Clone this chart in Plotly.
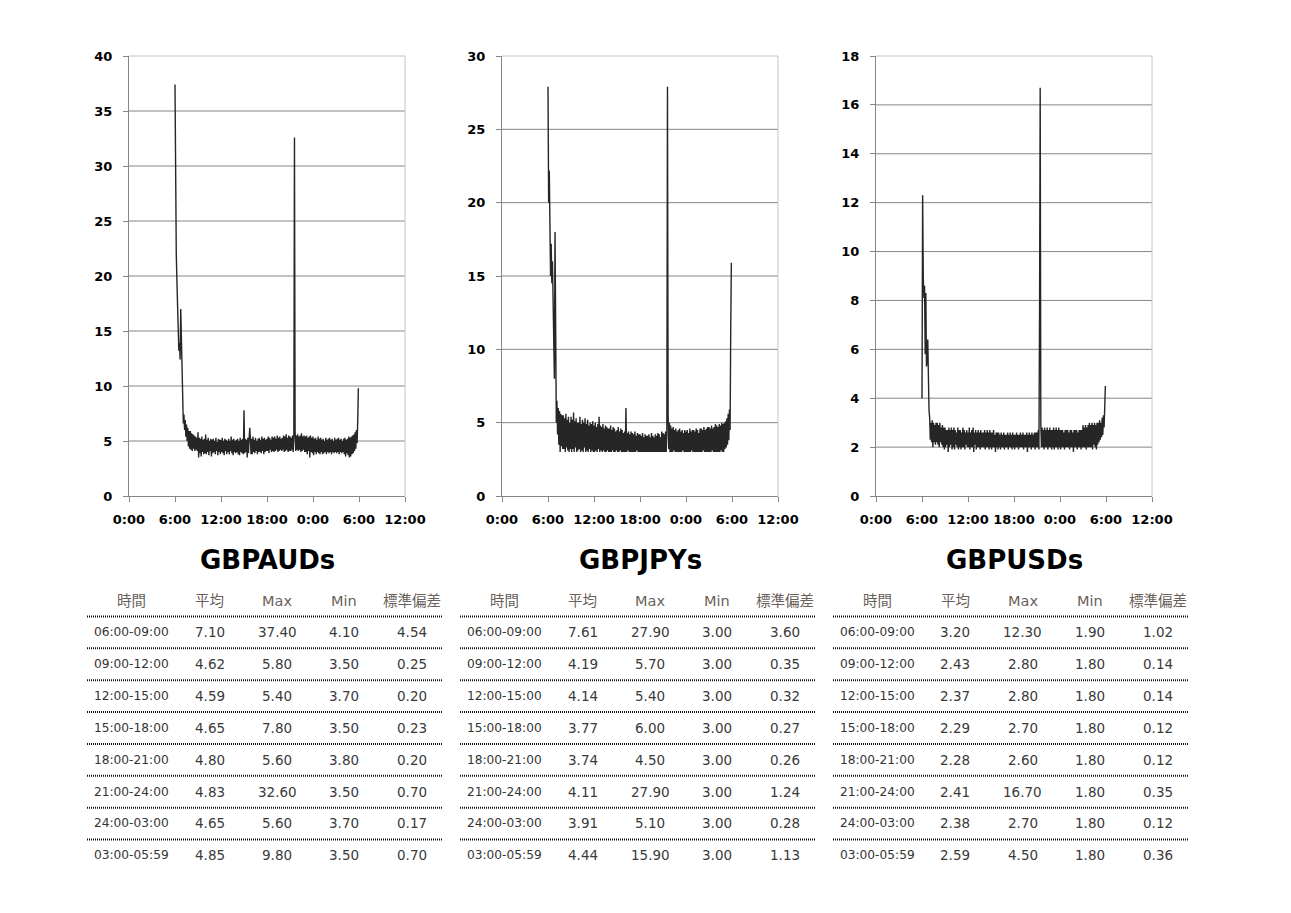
import pandas as pd
import plotly.graph_objects as go

W, H = 1291, 913

# ---------------- series: 5-minute readings, 06:00 -> 05:55 next day ----------------
series_start = "2000-01-01 06:00"

aud_vals = [
    37.4, 27.5, 22.0, 19.5, 16.6, 14.8, 13.2, 13.9, 12.4, 17.0, 13.5, 10.5,
    8.0, 6.6, 7.4, 6.0, 6.9, 5.4, 6.5, 5.0, 6.2, 4.5, 5.9, 4.3,
    5.9, 4.2, 5.7, 4.1, 5.6, 4.3, 5.5, 4.1, 5.4, 4.2, 5.3, 4.1,
    5.8, 3.5, 5.3, 3.9, 5.2, 3.6, 5.4, 4.0, 5.1, 3.8, 5.2, 3.9,
    5.6, 3.8, 5.1, 4.0, 5.3, 3.7, 5.0, 4.1, 5.2, 3.6, 5.1, 3.9,
    5.2, 4.0, 5.0, 3.8, 5.3, 4.1, 4.9, 3.7, 5.2, 4.0, 5.1, 3.8,
    5.1, 4.0, 5.3, 3.9, 5.0, 3.7, 5.2, 4.1, 5.1, 3.8, 5.0, 4.0,
    5.2, 3.8, 5.0, 4.1, 5.4, 3.9, 5.1, 3.7, 5.2, 4.0, 5.0, 3.9,
    5.1, 4.0, 5.2, 3.8, 5.0, 3.7, 5.3, 4.0, 5.1, 3.9, 5.2, 3.8,
    7.8, 3.9, 5.2, 4.0, 5.1, 3.5, 5.3, 3.9, 5.2, 6.2, 5.2, 3.8,
    5.2, 3.8, 5.4, 4.0, 5.1, 3.9, 5.3, 4.1, 5.0, 3.8, 5.2, 4.0,
    5.3, 4.0, 5.1, 3.9, 5.4, 4.1, 5.2, 3.8, 5.3, 4.0, 5.1, 4.1,
    5.2, 4.1, 5.4, 3.9, 5.3, 4.2, 5.1, 4.0, 5.4, 4.1, 5.3, 4.0,
    5.4, 4.1, 5.2, 4.2, 5.5, 4.0, 5.3, 4.1, 5.4, 4.2, 5.2, 4.1,
    5.3, 4.2, 5.5, 4.0, 5.4, 4.1, 5.6, 4.2, 5.3, 4.0, 5.5, 4.1,
    5.4, 4.1, 5.3, 4.2, 5.5, 4.0, 5.4, 32.6, 5.9, 4.1, 5.5, 4.2,
    5.6, 4.1, 5.4, 4.2, 5.5, 4.0, 5.7, 4.1, 5.4, 4.2, 5.5, 4.0,
    5.4, 4.0, 5.5, 3.8, 5.3, 4.1, 5.4, 3.5, 5.5, 4.0, 5.3, 3.9,
    5.4, 3.7, 5.2, 4.0, 5.3, 3.8, 5.1, 4.0, 5.4, 3.9, 5.2, 3.8,
    5.3, 4.0, 5.1, 3.8, 5.2, 3.9, 5.0, 4.0, 5.3, 3.8, 5.1, 4.0,
    5.2, 3.9, 5.3, 4.0, 5.1, 3.8, 5.2, 4.0, 5.0, 3.9, 5.3, 4.0,
    5.1, 3.9, 5.2, 4.0, 5.3, 3.8, 5.1, 4.0, 5.2, 3.9, 5.0, 4.0,
    5.2, 3.8, 5.3, 3.6, 5.1, 3.9, 5.2, 3.7, 5.4, 3.5, 5.3, 3.6,
    5.4, 3.8, 5.5, 3.9, 5.6, 4.1, 5.8, 4.3, 6.0, 4.8, 6.8, 9.8,
]

jpy_vals = [
    27.9, 20.0, 22.2, 17.5, 15.0, 17.2, 14.5, 16.0, 13.0, 10.5, 8.0, 18.0,
    7.2, 5.0, 6.5, 4.2, 6.0, 3.5, 5.8, 3.0, 5.6, 3.4, 5.5, 3.2,
    5.5, 3.2, 5.3, 3.0, 5.6, 3.3, 5.2, 3.1, 5.4, 3.0, 5.0, 3.2,
    5.4, 3.0, 5.2, 3.2, 5.7, 3.0, 5.1, 3.3, 5.3, 3.0, 5.0, 3.1,
    5.0, 3.2, 5.4, 3.0, 4.9, 3.1, 5.2, 3.0, 5.0, 3.3, 5.3, 3.0,
    4.9, 3.1, 5.2, 3.0, 4.8, 3.2, 5.0, 3.0, 4.9, 3.1, 5.1, 3.0,
    4.8, 3.0, 5.0, 3.1, 4.7, 3.0, 4.9, 3.2, 5.4, 3.0, 4.8, 3.1,
    4.7, 3.0, 4.9, 3.1, 4.6, 3.0, 4.8, 3.0, 4.7, 3.1, 4.6, 3.0,
    4.6, 3.0, 4.8, 3.0, 4.5, 3.1, 4.7, 3.0, 4.6, 3.0, 4.4, 3.1,
    4.5, 3.0, 4.7, 3.0, 4.4, 3.1, 4.6, 3.0, 4.5, 3.0, 4.3, 3.0,
    4.4, 3.0, 6.0, 3.0, 4.3, 3.1, 4.4, 3.0, 4.2, 3.0, 4.4, 3.0,
    4.3, 3.0, 4.2, 3.0, 4.4, 3.0, 4.1, 3.1, 4.3, 3.0, 4.2, 3.0,
    4.2, 3.0, 4.1, 3.0, 4.3, 3.0, 4.0, 3.0, 4.2, 3.0, 4.1, 3.0,
    4.1, 3.0, 4.2, 3.0, 4.0, 3.0, 4.3, 3.0, 4.1, 3.0, 4.0, 3.0,
    4.2, 3.0, 4.1, 3.0, 4.3, 3.0, 4.2, 3.0, 4.0, 3.0, 4.4, 3.0,
    4.3, 3.0, 4.2, 3.0, 4.4, 3.0, 4.3, 27.9, 5.6, 3.2, 5.0, 3.0,
    4.8, 3.0, 4.6, 3.0, 4.7, 3.1, 4.5, 3.0, 4.6, 3.0, 4.4, 3.0,
    4.5, 3.0, 4.6, 3.0, 4.4, 3.0, 4.5, 3.1, 4.3, 3.0, 4.5, 3.0,
    4.4, 3.0, 4.5, 3.0, 4.3, 3.0, 4.6, 3.0, 4.4, 3.1, 4.5, 3.0,
    4.5, 3.0, 4.4, 3.0, 4.6, 3.0, 4.5, 3.0, 4.3, 3.0, 4.6, 3.0,
    4.6, 3.0, 4.5, 3.1, 4.7, 3.0, 4.5, 3.0, 4.6, 3.0, 4.7, 3.0,
    4.7, 3.0, 4.6, 3.0, 4.8, 3.1, 4.6, 3.0, 4.7, 3.0, 4.9, 3.0,
    4.8, 3.0, 4.7, 3.0, 4.9, 3.0, 4.8, 3.1, 5.0, 3.0, 4.9, 3.0,
    5.0, 3.2, 5.1, 3.3, 5.3, 3.5, 5.6, 3.8, 5.9, 4.5, 11.3, 15.9,
]

usd_vals = [
    4.0, 12.3, 8.9, 8.1, 8.6, 5.8, 8.3, 5.3, 5.6, 6.4, 4.5, 3.5,
    3.2, 2.3, 3.0, 2.2, 3.1, 2.0, 3.0, 2.2, 2.9, 2.1, 3.0, 2.2,
    3.0, 2.1, 2.9, 2.0, 3.0, 2.2, 2.8, 2.1, 2.9, 2.0, 2.8, 1.9,
    2.8, 2.0, 2.7, 2.1, 2.7, 1.8, 2.8, 2.0, 2.7, 2.1, 2.8, 1.9,
    2.7, 2.0, 2.8, 1.9, 2.7, 2.1, 2.6, 2.0, 2.8, 1.9, 2.7, 2.0,
    2.7, 1.9, 2.6, 2.0, 2.8, 2.0, 2.7, 1.9, 2.6, 2.1, 2.7, 2.0,
    2.6, 2.0, 2.8, 1.9, 2.6, 2.0, 2.7, 2.0, 2.8, 1.8, 2.6, 2.1,
    2.7, 1.9, 2.6, 2.0, 2.7, 2.0, 2.6, 1.9, 2.7, 2.0, 2.6, 2.0,
    2.6, 2.0, 2.7, 1.9, 2.6, 2.0, 2.7, 2.0, 2.6, 1.9, 2.7, 2.0,
    2.6, 1.9, 2.6, 2.0, 2.7, 2.0, 2.5, 1.8, 2.6, 2.0, 2.6, 1.9,
    2.6, 2.0, 2.5, 1.9, 2.6, 2.0, 2.5, 2.0, 2.6, 1.9, 2.5, 2.0,
    2.5, 2.0, 2.6, 1.9, 2.5, 2.0, 2.6, 2.0, 2.5, 1.9, 2.6, 2.0,
    2.5, 1.9, 2.5, 2.0, 2.6, 2.0, 2.5, 1.9, 2.5, 2.0, 2.6, 2.0,
    2.5, 2.0, 2.6, 1.9, 2.5, 2.0, 2.5, 2.0, 2.6, 1.8, 2.5, 2.0,
    2.6, 2.0, 2.5, 1.9, 2.6, 2.0, 2.5, 2.0, 2.6, 1.9, 2.6, 2.0,
    2.6, 2.0, 2.7, 1.9, 7.6, 16.7, 2.9, 2.0, 2.8, 2.0, 2.7, 1.9,
    2.8, 2.0, 2.7, 2.0, 2.8, 1.9, 2.7, 2.0, 2.8, 2.0, 2.7, 1.9,
    2.7, 2.0, 2.8, 1.9, 2.7, 2.0, 2.8, 2.0, 2.7, 1.9, 2.8, 2.0,
    2.7, 1.9, 2.7, 2.0, 2.7, 2.0, 2.6, 1.9, 2.7, 2.0, 2.7, 2.0,
    2.7, 2.0, 2.6, 1.9, 2.7, 2.0, 2.7, 2.0, 2.6, 1.8, 2.7, 2.0,
    2.7, 2.0, 2.7, 1.9, 2.6, 2.0, 2.7, 2.0, 2.7, 1.9, 2.7, 2.0,
    2.9, 2.0, 2.8, 2.0, 2.9, 1.9, 2.8, 2.0, 2.9, 2.0, 3.0, 2.0,
    2.9, 2.0, 3.0, 1.9, 2.9, 2.1, 3.0, 2.0, 2.9, 1.9, 3.0, 2.1,
    3.0, 2.2, 3.1, 2.3, 3.0, 2.4, 3.2, 2.5, 3.3, 2.8, 3.6, 4.5,
]

aud_yticks = [0, 5, 10, 15, 20, 25, 30, 35, 40]
jpy_yticks = [0, 5, 10, 15, 20, 25, 30]
usd_yticks = [0, 2, 4, 6, 8, 10, 12, 14, 16, 18]

x_start, x_end = "2000-01-01 00:00", "2000-01-02 12:00"

# ---------------- tables ----------------
headers = ["時間", "平均", "Max", "Min", "標準偏差"]
periods = ["06:00-09:00", "09:00-12:00", "12:00-15:00", "15:00-18:00",
           "18:00-21:00", "21:00-24:00", "24:00-03:00", "03:00-05:59"]

aud_mean = [7.10, 4.62, 4.59, 4.65, 4.80, 4.83, 4.65, 4.85]
aud_max = [37.40, 5.80, 5.40, 7.80, 5.60, 32.60, 5.60, 9.80]
aud_min = [4.10, 3.50, 3.70, 3.50, 3.80, 3.50, 3.70, 3.50]
aud_std = [4.54, 0.25, 0.20, 0.23, 0.20, 0.70, 0.17, 0.70]

jpy_mean = [7.61, 4.19, 4.14, 3.77, 3.74, 4.11, 3.91, 4.44]
jpy_max = [27.90, 5.70, 5.40, 6.00, 4.50, 27.90, 5.10, 15.90]
jpy_min = [3.00, 3.00, 3.00, 3.00, 3.00, 3.00, 3.00, 3.00]
jpy_std = [3.60, 0.35, 0.32, 0.27, 0.26, 1.24, 0.28, 1.13]

usd_mean = [3.20, 2.43, 2.37, 2.29, 2.28, 2.41, 2.38, 2.59]
usd_max = [12.30, 2.80, 2.80, 2.70, 2.60, 16.70, 2.70, 4.50]
usd_min = [1.90, 1.80, 1.80, 1.80, 1.80, 1.80, 1.80, 1.80]
usd_std = [1.02, 0.14, 0.14, 0.12, 0.12, 0.35, 0.12, 0.36]

names = ["GBPAUDs", "GBPJPYs", "GBPUSDs"]

panels = [
    dict(name=names[0], vals=aud_vals, yticks=aud_yticks,
         stats=[aud_mean, aud_max, aud_min, aud_std]),
    dict(name=names[1], vals=jpy_vals, yticks=jpy_yticks,
         stats=[jpy_mean, jpy_max, jpy_min, jpy_std]),
    dict(name=names[2], vals=usd_vals, yticks=usd_yticks,
         stats=[usd_mean, usd_max, usd_min, usd_std]),
]

# ---------------- layout geometry (pixels) ----------------
plot_left = [129, 502, 876]
plot_w = 276
plot_top, plot_bottom = 56, 496
table_left = [87, 460, 833]
table_w = 356
col_offsets = [44, 122.5, 190, 257, 324.5]
header_y = 600.5
row_y0 = 632.3
row_pitch = 31.86
rule_y0 = 616.5


def px(x):
    return x / W


def py(y):
    return 1 - y / H


fig = go.Figure()
shapes = []
annotations = []

tick_font = dict(family="DejaVu Sans", size=13, color="#000000", weight="bold")
axis_grey = "#868686"
border_grey = "#c4c4c4"

for i, p in enumerate(panels):
    n = i + 1
    xa = "x" if n == 1 else f"x{n}"
    ya = "y" if n == 1 else f"y{n}"
    times = pd.date_range(series_start, periods=len(p["vals"]), freq="5min")
    fig.add_trace(go.Scatter(
        x=times, y=p["vals"], mode="lines",
        line=dict(color="#262626", width=1.4),
        xaxis=xa, yaxis=ya, showlegend=False, hoverinfo="skip",
    ))
    l = plot_left[i]
    dom_x = [px(l), px(l + plot_w)]
    dom_y = [py(plot_bottom), py(plot_top)]
    key_x = "xaxis" if n == 1 else f"xaxis{n}"
    key_y = "yaxis" if n == 1 else f"yaxis{n}"
    fig.update_layout(**{
        key_x: dict(
            domain=dom_x, anchor=ya, type="date", range=[x_start, x_end],
            tickmode="linear", tick0=x_start, dtick=6 * 3600 * 1000,
            tickformat="%-H:%M", ticks="outside", ticklen=5, tickcolor=axis_grey,
            showline=True, linecolor=axis_grey, linewidth=1,
            showgrid=False, zeroline=False, tickfont=tick_font,
            ticklabelstandoff=6, fixedrange=True, automargin=False,
        ),
        key_y: dict(
            domain=dom_y, anchor=xa, range=[p["yticks"][0], p["yticks"][-1]],
            tickmode="array", tickvals=p["yticks"],
            ticks="outside", ticklen=5, tickcolor=axis_grey,
            showline=True, linecolor=axis_grey, linewidth=1,
            showgrid=False, zeroline=False, tickfont=tick_font,
            ticklabelstandoff=8, fixedrange=True, automargin=False,
        ),
    })
    # horizontal gridlines at inner ticks
    for v in p["yticks"][1:-1]:
        shapes.append(dict(type="line", xref=f"{xa} domain", yref=ya,
                           x0=0, x1=1, y0=v, y1=v, layer="below",
                           line=dict(color=axis_grey, width=1)))
    # light top / right plot border
    shapes.append(dict(type="line", xref=f"{xa} domain", yref=f"{ya} domain",
                       x0=0, x1=1, y0=1, y1=1, layer="below",
                       line=dict(color=border_grey, width=1)))
    shapes.append(dict(type="line", xref=f"{xa} domain", yref=f"{ya} domain",
                       x0=1, x1=1, y0=0, y1=1, layer="below",
                       line=dict(color=border_grey, width=1)))

    # title
    annotations.append(dict(
        text=p["name"], x=px(l + plot_w / 2), y=py(560), xref="paper", yref="paper",
        xanchor="center", yanchor="middle", showarrow=False,
        font=dict(family="DejaVu Sans", size=26, color="#000000", weight="bold"),
    ))

    # table
    tl = table_left[i]
    for c, h in enumerate(headers):
        annotations.append(dict(
            text=h, x=px(tl + col_offsets[c]), y=py(header_y), xref="paper", yref="paper",
            xanchor="center", yanchor="middle", showarrow=False,
            font=dict(family="DejaVu Sans, Noto Sans CJK JP", size=14.5, color="#6a5f5a"),
        ))
    for r, per in enumerate(periods):
        yy = row_y0 + r * row_pitch
        ry = rule_y0 + r * row_pitch
        shapes.append(dict(type="line", xref="paper", yref="paper",
                           x0=px(tl), x1=px(tl + table_w), y0=py(ry), y1=py(ry),
                           line=dict(color="#111111", width=2, dash="1px,1px")))
        annotations.append(dict(
            text=per, x=px(tl + col_offsets[0]), y=py(yy), xref="paper", yref="paper",
            xanchor="center", yanchor="middle", showarrow=False,
            font=dict(family="DejaVu Sans", size=12.2, color="#333333"),
        ))
        for c, col in enumerate(p["stats"]):
            annotations.append(dict(
                text=f"{col[r]:.2f}", x=px(tl + col_offsets[c + 1]), y=py(yy),
                xref="paper", yref="paper", xanchor="center", yanchor="middle",
                showarrow=False,
                font=dict(family="DejaVu Sans", size=13.5, color="#3a3a3a"),
            ))

fig.update_layout(
    width=W, height=H, margin=dict(l=0, r=0, t=0, b=0, pad=0),
    paper_bgcolor="#ffffff", plot_bgcolor="#ffffff",
    shapes=shapes, annotations=annotations, showlegend=False,
)

fig.write_html(
    "out.html",
    config={"displayModeBar": False},
    post_script="document.body.style.margin='0';document.body.style.padding='0';"
                "document.documentElement.style.overflow='hidden';",
)
